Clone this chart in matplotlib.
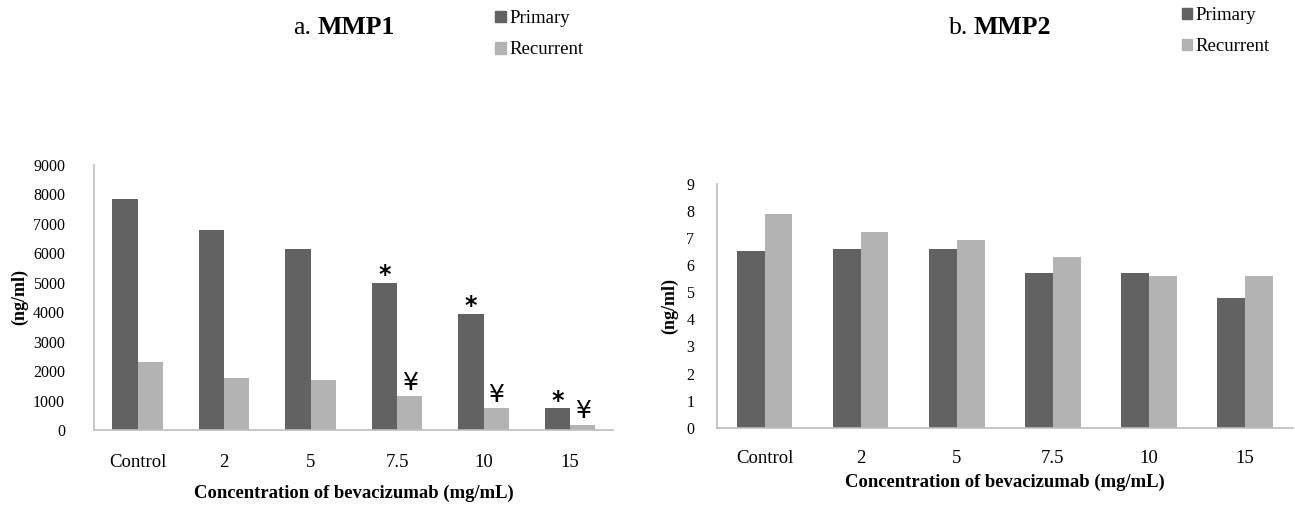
import numpy as np
import matplotlib.pyplot as plt
from matplotlib.patches import Patch

######################################################################
# Data

categories = ['Control', '2', '5', '7.5', '10', '15']

mmp1_primary = [7850, 6800, 6150, 5000, 3950, 730]
mmp1_recurrent = [2300, 1750, 1700, 1150, 730, 180]
mmp1_star = [False, False, False, True, True, True]   # * over primary
mmp1_yen = [False, False, False, True, True, True]    # ¥ over recurrent

mmp2_primary = [6.52, 6.6, 6.6, 5.73, 5.73, 4.8]
mmp2_recurrent = [7.9, 7.21, 6.95, 6.31, 5.62, 5.62]

dark = '#626262'
light = '#b3b3b3'
serif = ['Liberation Serif', 'DejaVu Serif']

plt.rcParams['font.family'] = serif

######################################################################

fig = plt.figure(figsize=(12.95, 5.07), dpi=100)


def draw_panel(ax, prim, rec, ymax, ystep):
    x = np.arange(len(categories))
    w = 0.29
    ax.bar(x - w / 2, prim, w, color=dark)
    ax.bar(x + w / 2, rec, w, color=light)
    ax.set_xlim(-0.5, len(categories) - 0.5)
    ax.set_ylim(0, ymax)
    ax.set_yticks(np.arange(0, ymax + ystep / 2, ystep))
    ax.set_xticks(x)
    ax.set_xticklabels(categories)
    ax.tick_params(axis='both', length=0)
    ax.tick_params(axis='y', labelsize=11.5)
    ax.tick_params(axis='x', labelsize=13.5, pad=17)
    for s in ['top', 'right']:
        ax.spines[s].set_visible(False)
    for s in ['left', 'bottom']:
        ax.spines[s].set_color('#bdbdbd')
        ax.spines[s].set_linewidth(1.2)
    ax.set_ylabel('(ng/ml)', fontweight='bold', fontsize=13)
    ax.set_xlabel('Concentration of bevacizumab (mg/mL)', fontweight='bold',
                  fontsize=13.4, labelpad=10)
    return x, w


# a. MMP1
ax1 = fig.add_axes([0.0728, 0.1519, 0.4008, 0.5227])
x, w = draw_panel(ax1, mmp1_primary, mmp1_recurrent, 9000, 1000)
ax1.tick_params(axis='y', pad=21)
ax1.yaxis.set_label_coords(-0.127, 0.5)
for i in range(len(categories)):
    if mmp1_star[i]:
        ax1.annotate('*', (x[i] - w / 2, mmp1_primary[i]), xytext=(0, -3),
                     textcoords='offset points', ha='center', va='bottom',
                     fontsize=17, fontweight='bold', family=['DejaVu Sans'])
    if mmp1_yen[i]:
        ax1.annotate('\u00a5', (x[i] + w / 2, mmp1_recurrent[i]), xytext=(0, 1),
                     textcoords='offset points', ha='center', va='bottom',
                     fontsize=18, family=['DejaVu Sans'])

# b. MMP2
ax2 = fig.add_axes([0.5534, 0.1564, 0.4448, 0.4807])
draw_panel(ax2, mmp2_primary, mmp2_recurrent, 9, 1)
ax2.tick_params(axis='y', pad=16)
ax2.tick_params(axis='x', pad=16)
ax2.xaxis.labelpad = 5
ax2.yaxis.set_label_coords(-0.066, 0.5)

# titles
fig.text(0.226, 0.945, 'a.', fontsize=18.5, va='center', ha='left')
fig.text(0.245, 0.945, 'MMP1', fontsize=18.5, fontweight='bold', va='center', ha='left')
fig.text(0.733, 0.945, 'b.', fontsize=18.5, va='center', ha='left')
fig.text(0.752, 0.945, 'MMP2', fontsize=18.5, fontweight='bold', va='center', ha='left')

# legends
handles = [Patch(color=dark, label='Primary'), Patch(color=light, label='Recurrent')]
for xl, yl in [(0.371, 1.009), (0.901, 1.015)]:
    fig.legend(handles=handles, loc='upper left', bbox_to_anchor=(xl, yl),
               frameon=False, fontsize=13.5, handlelength=0.55, handleheight=0.55,
               handletextpad=0.2, labelspacing=0.75, borderpad=0.3)

plt.savefig('out.png', dpi=100)
